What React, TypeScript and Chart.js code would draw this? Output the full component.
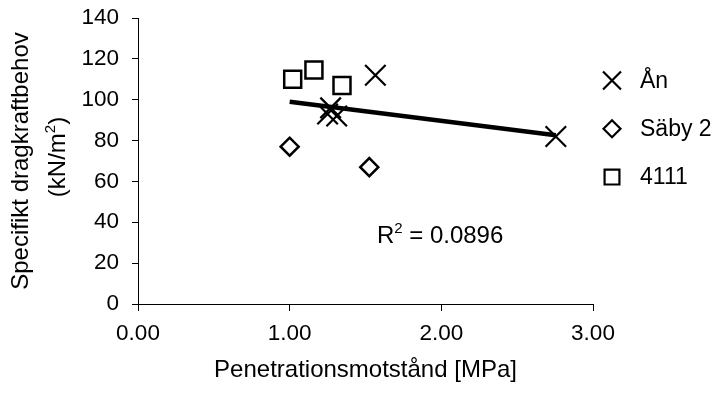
import React, { useEffect, useRef } from 'react';
import { Chart, registerables } from 'chart.js';

Chart.register(...registerables);

// ---- data ----
const anX = [1.25, 1.27, 1.31, 1.565, 2.755];
const anY = [93, 96, 92, 112, 82];
const sabyX = [1.0, 1.525];
const sabyY = [77, 67];
const s4111X = [1.02, 1.16, 1.345];
const s4111Y = [110, 114.5, 107];
const trendX = [1.0, 2.755];
const trendY = [99, 82.6];
const seriesNames = ['Ån', 'Säby 2', '4111'];
const xMin = 0;
const xMax = 3;
const xStep = 1;
const yMin = 0;
const yMax = 140;
const yStep = 20;
const xTitle = 'Penetrationsmotstånd [MPa]';
const yTitleLine1 = 'Specifikt dragkraftbehov';
const yTitleLine2 = ['(kN/m', '2', ')'];
const r2Value = '0.0896';
const r2Anchor = [1.575, 29.9];

const FONT = "'Liberation Sans', Arial, Helvetica, sans-serif";
const TICK_FS = 22.5;
const TITLE_FS = 24;
const LEGEND_FS = 23;
const SUP = 15;

const toPts = (xs: number[], ys: number[]) => xs.map((x, i) => ({ x, y: ys[i] }));

function drawSymbol(ctx: CanvasRenderingContext2D, style: string, x: number, y: number, r: number) {
  ctx.beginPath();
  if (style === 'crossRot') {
    const d = r * Math.SQRT1_2;
    ctx.moveTo(x - d, y - d);
    ctx.lineTo(x + d, y + d);
    ctx.moveTo(x + d, y - d);
    ctx.lineTo(x - d, y + d);
  } else if (style === 'rectRot') {
    ctx.moveTo(x - r, y);
    ctx.lineTo(x, y - r);
    ctx.lineTo(x + r, y);
    ctx.lineTo(x, y + r);
    ctx.closePath();
  } else {
    const s = r * Math.SQRT1_2;
    ctx.rect(x - s, y - s, 2 * s, 2 * s);
  }
  ctx.stroke();
}

const extrasPlugin = {
  id: 'extras',
  afterDraw(chart: any) {
    const ctx: CanvasRenderingContext2D = chart.ctx;
    const { chartArea, scales } = chart;
    ctx.save();
    ctx.fillStyle = '#000';
    ctx.strokeStyle = '#000';

    // legend
    const legendItems = chart.data.datasets.filter((d: any) => d.legendStyle);
    legendItems.forEach((d: any, i: number) => {
      const cx = chartArea.right + 19;
      const cy = 80.5 + i * 48.3;
      ctx.lineWidth = 2.2;
      drawSymbol(ctx, d.legendStyle, cx, cy, d.legendRadius);
      ctx.font = `${LEGEND_FS}px ${FONT}`;
      ctx.textAlign = 'left';
      ctx.textBaseline = 'middle';
      ctx.fillText(d.label, cx + 28, cy + 1);
    });

    // y title (rotated)
    ctx.save();
    ctx.translate(28.3, 161);
    ctx.rotate(-Math.PI / 2);
    ctx.font = `${TITLE_FS}px ${FONT}`;
    ctx.textAlign = 'center';
    ctx.textBaseline = 'alphabetic';
    ctx.fillText(yTitleLine1, 0, 0);
    ctx.restore();

    ctx.save();
    ctx.translate(65, 157);
    ctx.rotate(-Math.PI / 2);
    ctx.textBaseline = 'alphabetic';
    ctx.textAlign = 'left';
    ctx.font = `${TITLE_FS}px ${FONT}`;
    const w0 = ctx.measureText(yTitleLine2[0]).width;
    const w2 = ctx.measureText(yTitleLine2[2]).width;
    ctx.font = `${SUP}px ${FONT}`;
    const w1 = ctx.measureText(yTitleLine2[1]).width;
    let px = -(w0 + w1 + w2) / 2;
    ctx.font = `${TITLE_FS}px ${FONT}`;
    ctx.fillText(yTitleLine2[0], px, 0);
    px += w0;
    ctx.font = `${SUP}px ${FONT}`;
    ctx.fillText(yTitleLine2[1], px, -10);
    px += w1;
    ctx.font = `${TITLE_FS}px ${FONT}`;
    ctx.fillText(yTitleLine2[2], px, 0);
    ctx.restore();

    // R^2 label
    const rx = scales.x.getPixelForValue(r2Anchor[0]);
    const ry = scales.y.getPixelForValue(r2Anchor[1]);
    ctx.textAlign = 'left';
    ctx.textBaseline = 'alphabetic';
    ctx.font = `${TITLE_FS}px ${FONT}`;
    ctx.fillText('R', rx, ry);
    let tx = rx + ctx.measureText('R').width;
    ctx.font = `${SUP}px ${FONT}`;
    ctx.fillText('2', tx, ry - 10);
    tx += ctx.measureText('2').width;
    ctx.font = `${TITLE_FS}px ${FONT}`;
    ctx.fillText(' = ' + r2Value, tx, ry);

    ctx.restore();
  },
};

export default function App() {
  const ref = useRef<HTMLCanvasElement>(null);
  useEffect(() => {
    if (!ref.current) return;
    const chart = new Chart(ref.current, {
      type: 'scatter',
      data: {
        datasets: [
          {
            label: seriesNames[0],
            data: toPts(anX, anY),
            pointStyle: 'crossRot',
            pointRadius: 14.5,
            pointHoverRadius: 14.5,
            borderColor: '#000',
            backgroundColor: 'rgba(0,0,0,0)',
            pointBorderWidth: 2.2,
            order: 1,
            legendStyle: 'crossRot',
            legendRadius: 12.7,
          } as any,
          {
            label: seriesNames[1],
            data: toPts(sabyX, sabyY),
            pointStyle: 'rectRot',
            pointRadius: 9,
            pointHoverRadius: 9,
            borderColor: '#000',
            backgroundColor: 'rgba(0,0,0,0)',
            pointBorderWidth: 2.5,
            order: 1,
            legendStyle: 'rectRot',
            legendRadius: 8.5,
          } as any,
          {
            label: seriesNames[2],
            data: toPts(s4111X, s4111Y),
            pointStyle: 'rect',
            pointRadius: 12,
            pointHoverRadius: 12,
            borderColor: '#000',
            backgroundColor: 'rgba(0,0,0,0)',
            pointBorderWidth: 2.5,
            order: 1,
            legendStyle: 'rect',
            legendRadius: 10.5,
          } as any,
          {
            label: 'trend',
            data: toPts(trendX, trendY),
            showLine: true,
            borderColor: '#000',
            borderWidth: 4.5,
            pointRadius: 0,
            pointHoverRadius: 0,
            order: 0,
          } as any,
        ],
      },
      options: {
        responsive: false,
        animation: false,
        events: [],
        layout: { padding: { top: 18, right: 125, left: 0, bottom: 0 } },
        plugins: {
          legend: { display: false },
          tooltip: { enabled: false },
        },
        scales: {
          x: {
            type: 'linear',
            min: xMin,
            max: xMax,
            afterFit: (s: any) => { s.height = 90; },
            ticks: {
              stepSize: xStep,
              color: '#000',
              padding: 9,
              maxRotation: 0,
              font: { family: FONT, size: TICK_FS },
              callback: (v: any) => Number(v).toFixed(2),
            },
            grid: { drawOnChartArea: false, color: '#000', tickLength: 7, lineWidth: 1 },
            border: { display: true, color: '#000', width: 1 },
            title: {
              display: true,
              text: xTitle,
              color: '#000',
              font: { family: FONT, size: TITLE_FS },
              padding: { top: 0, bottom: 9 },
            },
          },
          y: {
            type: 'linear',
            min: yMin,
            max: yMax,
            afterFit: (s: any) => {
              s.width = 138;
              s.paddingTop = 0;
              s.paddingBottom = 0;
            },
            ticks: {
              stepSize: yStep,
              color: '#000',
              padding: 13,
              font: { family: FONT, size: TICK_FS },
            },
            grid: { drawOnChartArea: false, color: '#000', tickLength: 6, lineWidth: 1 },
            border: { display: true, color: '#000', width: 1 },
          },
        },
      },
      plugins: [extrasPlugin],
    });
    return () => chart.destroy();
  }, []);
  return (
    <div style={{ position: 'fixed', left: 0, top: 0, width: 718, height: 394, background: '#fff' }}>
      <canvas ref={ref} width={718} height={394} style={{ display: 'block' }} />
    </div>
  );
}
